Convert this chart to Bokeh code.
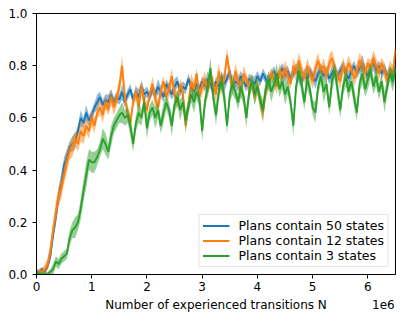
import numpy as np
from bokeh.plotting import figure
from bokeh.models import Range1d, FixedTicker, LinearAxis
from bokeh.embed import file_html
from bokeh.resources import INLINE

STEP = 50000  # x spacing of samples (transitions)

series_names = ["Plans contain 50 states", "Plans contain 12 states", "Plans contain 3 states"]
colors = ["#1f77b4", "#ff7f0e", "#2ca02c"]

mean_50 = [
    0.01, 0.01, 0.02, 0.01, 0.03, 0.07, 0.15, 0.22, 0.30, 0.35,
    0.42, 0.45, 0.49, 0.50, 0.51, 0.55, 0.60, 0.58, 0.62, 0.59,
    0.61, 0.64, 0.66, 0.68, 0.65, 0.67, 0.66, 0.69, 0.66, 0.68,
    0.67, 0.70, 0.66, 0.69, 0.71, 0.67, 0.70, 0.68, 0.72, 0.69,
    0.70, 0.68, 0.71, 0.69, 0.72, 0.70, 0.68, 0.73, 0.71, 0.69,
    0.72, 0.74, 0.70, 0.72, 0.71, 0.75, 0.72, 0.70, 0.73, 0.71,
    0.74, 0.72, 0.75, 0.73, 0.70, 0.74, 0.72, 0.76, 0.73, 0.75,
    0.78, 0.72, 0.74, 0.73, 0.76, 0.74, 0.72, 0.75, 0.74, 0.73,
    0.76, 0.74, 0.77, 0.75, 0.73, 0.76, 0.78, 0.75, 0.77, 0.79,
    0.76, 0.78, 0.75, 0.77, 0.79, 0.76, 0.74, 0.77, 0.75, 0.78,
    0.76, 0.74, 0.77, 0.79, 0.76, 0.78, 0.75, 0.77, 0.79, 0.76,
    0.78, 0.80, 0.77, 0.75, 0.78, 0.80, 0.77, 0.79, 0.81, 0.78,
    0.76, 0.79, 0.81, 0.78, 0.80, 0.77, 0.79, 0.76, 0.78, 0.75,
    0.79,
]
mean_12 = [
    0.00, 0.01, 0.01, 0.02, 0.04, 0.09, 0.17, 0.24, 0.30, 0.33,
    0.38, 0.43, 0.47, 0.49, 0.52, 0.50, 0.55, 0.53, 0.57, 0.55,
    0.60, 0.57, 0.62, 0.64, 0.61, 0.66, 0.63, 0.68, 0.64, 0.67,
    0.72, 0.80, 0.68, 0.62, 0.58, 0.66, 0.70, 0.64, 0.72, 0.66,
    0.63, 0.69, 0.73, 0.67, 0.64, 0.70, 0.74, 0.68, 0.71, 0.76,
    0.69, 0.66, 0.73, 0.70, 0.57, 0.65, 0.74, 0.71, 0.77, 0.68,
    0.72, 0.75, 0.70, 0.76, 0.73, 0.69, 0.78, 0.72, 0.75, 0.84,
    0.76, 0.71, 0.78, 0.74, 0.70, 0.77, 0.75, 0.71, 0.74, 0.68,
    0.73, 0.66, 0.62, 0.70, 0.74, 0.77, 0.75, 0.72, 0.78, 0.75,
    0.79, 0.76, 0.73, 0.80, 0.77, 0.82, 0.78, 0.75, 0.80, 0.77,
    0.74, 0.79, 0.82, 0.78, 0.80, 0.76, 0.81, 0.83, 0.79, 0.76,
    0.74, 0.80, 0.77, 0.81, 0.79, 0.75, 0.78, 0.82, 0.80, 0.77,
    0.81, 0.79, 0.83, 0.80, 0.77, 0.81, 0.78, 0.74, 0.79, 0.77,
    0.86,
]
mean_3 = [
    0.01, 0.00, 0.00, 0.00, 0.00, 0.01, 0.02, 0.05, 0.04, 0.06,
    0.07, 0.08, 0.14, 0.17, 0.18, 0.20, 0.25, 0.32, 0.38, 0.44,
    0.43, 0.43, 0.45, 0.48, 0.52, 0.50, 0.47, 0.53, 0.57, 0.59,
    0.61, 0.62, 0.60, 0.61, 0.57, 0.50, 0.58, 0.62, 0.60, 0.66,
    0.56, 0.62, 0.64, 0.60, 0.63, 0.57, 0.62, 0.66, 0.63, 0.57,
    0.65, 0.68, 0.63, 0.66, 0.59, 0.64, 0.69, 0.66, 0.70, 0.67,
    0.55, 0.66, 0.72, 0.79, 0.68, 0.61, 0.70, 0.74, 0.68, 0.57,
    0.69, 0.73, 0.70, 0.66, 0.72, 0.68, 0.60, 0.70, 0.74, 0.69,
    0.72, 0.67, 0.63, 0.71, 0.75, 0.70, 0.73, 0.77, 0.71, 0.74,
    0.69, 0.72, 0.66, 0.57, 0.72, 0.78, 0.73, 0.66, 0.75, 0.71,
    0.64, 0.62, 0.72, 0.76, 0.70, 0.73, 0.64, 0.74, 0.78, 0.71,
    0.63, 0.72, 0.76, 0.70, 0.74, 0.68, 0.62, 0.73, 0.77, 0.71,
    0.75, 0.78, 0.72, 0.76, 0.70, 0.74, 0.66, 0.72, 0.77, 0.74,
    0.78,
]

# half-width of the shaded band around each mean
band_50 = [
    0.01, 0.01, 0.01, 0.01, 0.01, 0.02, 0.02, 0.03, 0.03, 0.04,
    0.03, 0.03, 0.02, 0.03, 0.03, 0.02, 0.03, 0.02, 0.03, 0.02,
    0.02, 0.02, 0.03, 0.02, 0.02, 0.02, 0.03, 0.02, 0.02, 0.02,
    0.02, 0.03, 0.02, 0.02, 0.02, 0.02, 0.02, 0.03, 0.02, 0.02,
    0.02, 0.02, 0.02, 0.02, 0.03, 0.02, 0.02, 0.02, 0.02, 0.02,
    0.03, 0.02, 0.02, 0.02, 0.02, 0.02, 0.02, 0.03, 0.02, 0.02,
    0.02, 0.02, 0.03, 0.02, 0.02, 0.02, 0.02, 0.02, 0.03, 0.02,
    0.02, 0.02, 0.02, 0.03, 0.02, 0.02, 0.02, 0.02, 0.02, 0.03,
    0.02, 0.02, 0.02, 0.02, 0.03, 0.02, 0.02, 0.02, 0.02, 0.02,
    0.03, 0.02, 0.02, 0.02, 0.02, 0.03, 0.02, 0.02, 0.02, 0.02,
    0.02, 0.03, 0.02, 0.02, 0.02, 0.02, 0.02, 0.03, 0.02, 0.02,
    0.02, 0.02, 0.02, 0.03, 0.02, 0.02, 0.02, 0.02, 0.03, 0.02,
    0.02, 0.02, 0.03, 0.02, 0.02, 0.02, 0.02, 0.02, 0.02, 0.03,
    0.02,
]
band_12 = [
    0.01, 0.01, 0.01, 0.02, 0.02, 0.03, 0.03, 0.04, 0.04, 0.04,
    0.03, 0.04, 0.03, 0.04, 0.03, 0.03, 0.04, 0.03, 0.03, 0.03,
    0.03, 0.03, 0.02, 0.03, 0.03, 0.03, 0.02, 0.03, 0.03, 0.03,
    0.03, 0.04, 0.03, 0.03, 0.03, 0.02, 0.03, 0.03, 0.03, 0.03,
    0.03, 0.02, 0.03, 0.03, 0.03, 0.03, 0.02, 0.03, 0.03, 0.03,
    0.03, 0.03, 0.02, 0.03, 0.03, 0.03, 0.03, 0.03, 0.02, 0.03,
    0.03, 0.03, 0.03, 0.02, 0.03, 0.03, 0.03, 0.03, 0.03, 0.03,
    0.03, 0.02, 0.03, 0.03, 0.03, 0.03, 0.02, 0.03, 0.03, 0.03,
    0.03, 0.03, 0.04, 0.03, 0.03, 0.02, 0.03, 0.03, 0.03, 0.03,
    0.03, 0.03, 0.02, 0.03, 0.03, 0.03, 0.03, 0.02, 0.03, 0.03,
    0.03, 0.03, 0.03, 0.02, 0.03, 0.03, 0.03, 0.03, 0.03, 0.02,
    0.03, 0.03, 0.03, 0.03, 0.02, 0.03, 0.03, 0.03, 0.03, 0.03,
    0.02, 0.03, 0.03, 0.03, 0.03, 0.02, 0.03, 0.03, 0.03, 0.03,
    0.03,
]
band_3 = [
    0.01, 0.01, 0.01, 0.01, 0.01, 0.01, 0.02, 0.02, 0.02, 0.02,
    0.02, 0.02, 0.03, 0.03, 0.04, 0.03, 0.04, 0.04, 0.05, 0.04,
    0.04, 0.04, 0.03, 0.03, 0.04, 0.04, 0.03, 0.04, 0.03, 0.03,
    0.03, 0.04, 0.03, 0.03, 0.04, 0.03, 0.03, 0.04, 0.03, 0.03,
    0.04, 0.03, 0.03, 0.04, 0.03, 0.03, 0.04, 0.03, 0.03, 0.04,
    0.03, 0.03, 0.04, 0.03, 0.04, 0.03, 0.03, 0.04, 0.03, 0.03,
    0.04, 0.03, 0.03, 0.04, 0.03, 0.04, 0.03, 0.03, 0.04, 0.03,
    0.03, 0.04, 0.03, 0.03, 0.04, 0.03, 0.04, 0.03, 0.03, 0.04,
    0.03, 0.03, 0.04, 0.03, 0.03, 0.04, 0.03, 0.04, 0.03, 0.03,
    0.04, 0.03, 0.03, 0.04, 0.03, 0.03, 0.04, 0.03, 0.04, 0.03,
    0.03, 0.04, 0.03, 0.03, 0.04, 0.03, 0.03, 0.04, 0.03, 0.04,
    0.03, 0.03, 0.04, 0.03, 0.03, 0.04, 0.03, 0.03, 0.04, 0.03,
    0.04, 0.03, 0.03, 0.04, 0.03, 0.03, 0.04, 0.03, 0.03, 0.04,
    0.03,
]

x_ticks = [0, 1e6, 2e6, 3e6, 4e6, 5e6, 6e6]
x_tick_labels = ["0", "1", "2", "3", "4", "5", "6"]
y_ticks = [0.0, 0.2, 0.4, 0.6, 0.8, 1.0]
y_tick_labels = ["0.0", "0.2", "0.4", "0.6", "0.8", "1.0"]
x_label = "Number of experienced transitions N"
x_scale_label = "1e6"

X_START, X_END = 0, 6.5e6
FONT = "DejaVu Sans"
FS = "12px"

p = figure(width=396, height=314, output_backend="svg", toolbar_location=None,
           x_range=Range1d(X_START, X_END), y_range=Range1d(0, 1.0),
           min_border_left=36, min_border_right=1, min_border_top=13, min_border_bottom=39)
p.grid.visible = False
p.outline_line_color = "black"
p.outline_line_width = 1
p.background_fill_color = "white"
p.border_fill_color = "white"

for ax, ticks, labels, standoff in ((p.xaxis[0], x_ticks, x_tick_labels, 3),
                                    (p.yaxis[0], y_ticks, y_tick_labels, 5)):
    ax.ticker = FixedTicker(ticks=ticks)
    ax.major_label_overrides = {t: l for t, l in zip(ticks, labels)}
    ax.minor_tick_line_color = None
    ax.major_tick_in = 0
    ax.major_tick_out = 4
    ax.major_label_standoff = standoff
    ax.major_label_text_font = FONT
    ax.major_label_text_font_size = FS
    ax.major_label_text_color = "black"
    ax.axis_line_color = "black"
    ax.major_tick_line_color = "black"

# second, tickless axis carrying the x-axis title and the "1e6" scale note on one row
title_pos = (X_START + X_END) / 2
scale_pos = X_END - 0.22e6
ax2 = LinearAxis(ticker=FixedTicker(ticks=[title_pos, scale_pos]),
                 major_label_overrides={title_pos: x_label, scale_pos: x_scale_label})
ax2.axis_line_color = None
ax2.major_tick_line_color = None
ax2.minor_tick_line_color = None
ax2.major_tick_in = 0
ax2.major_tick_out = 0
ax2.major_label_standoff = 4
ax2.major_label_text_font = FONT
ax2.major_label_text_font_size = FS
ax2.major_label_text_color = "black"
p.add_layout(ax2, "below")

for mean, band, name, color in zip((mean_50, mean_12, mean_3), (band_50, band_12, band_3),
                                   series_names, colors):
    m = np.array(mean)
    b = np.array(band)
    x = np.arange(len(m)) * STEP
    p.varea(x=x, y1=m - b, y2=m + b, fill_color=color, fill_alpha=0.5)
    p.line(x=x, y=m, line_color=color, line_width=1.9, legend_label=name)

leg = p.legend[0]
leg.location = "bottom_right"
leg.label_text_font = FONT
leg.label_text_font_size = "12.5px"
leg.label_text_color = "black"
leg.glyph_width = 27
leg.glyph_height = 15
leg.label_height = 15
leg.spacing = 0
leg.padding = 3
leg.margin = 7
leg.label_standoff = 9
leg.border_line_color = "#cccccc"
leg.border_line_width = 1
leg.background_fill_alpha = 0.8

open("out.html", "w").write(file_html(p, INLINE))
